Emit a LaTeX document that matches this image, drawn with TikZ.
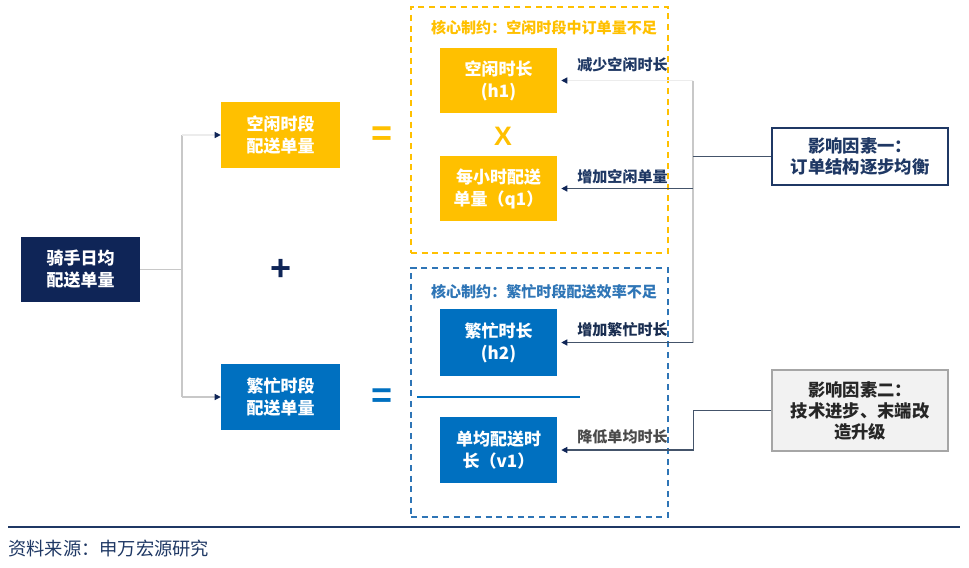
\documentclass[tikz,border=0pt]{standalone}
\usepackage{fontspec}
\setmainfont{Noto Sans CJK SC}
\newfontfamily\symfont{Liberation Sans}
\usetikzlibrary{arrows.meta}
\definecolor{navy}{HTML}{0F2557}
\definecolor{gold}{HTML}{FFC000}
\definecolor{mblue}{HTML}{0070C0}
\definecolor{tblue}{HTML}{2E75B6}
\definecolor{lblnavy}{HTML}{1F3864}
\definecolor{lblgray}{HTML}{4A4A4A}
\definecolor{treegray}{HTML}{C8C8C8}
\definecolor{faint}{HTML}{ECECEC}
\definecolor{linkgray}{HTML}{44546A}
\definecolor{boxgray}{HTML}{F2F2F2}
\begin{document}
\begin{tikzpicture}[x=0.75pt,y=-0.75pt,
  boxbase/.style={minimum width=89.25pt, minimum height=49.5pt, inner sep=0pt, align=center,
    text=white, font=\bfseries\fontsize{12.75}{16.5}\selectfont},
  smallbox/.style={boxbase, minimum width=87.75pt},
  frame/.style={draw, line width=1.5pt, dash pattern=on 4.5pt off 3.5pt, inner sep=0pt},
  ttl/.style={font=\bfseries\fontsize{11.3}{13}\selectfont},
  lbl/.style={font=\bfseries\fontsize{11.3}{13}\selectfont},
  infl/.style={minimum width=132pt, inner sep=0pt, align=center, line width=1.5pt,
    font=\bfseries\fontsize{13}{15.75}\selectfont},
  sym/.style={font=\symfont\bfseries\fontsize{20}{20}\selectfont},
  bigsym/.style={font=\symfont\bfseries\fontsize{27}{27}\selectfont},
  treeline/.style={draw=treegray, line width=0.9pt},
  treearr/.style={treeline, -{Triangle[length=4.5pt,width=4.5pt,color=navy]}},
  linkline/.style={draw=linkgray, line width=0.9pt},
  linkarr/.style={linkline, -{Triangle[length=4.5pt,width=4.5pt,color=navy]}, shorten >=3pt}
]
\useasboundingbox (0,0) rectangle (969,567);

% left part
\node[boxbase, fill=navy, minimum height=48.75pt] (main) at (80.5,269.5) {骑手日均\\配送单量};
\node[boxbase, fill=gold] (yb) at (280.5,135) {空闲时段\\配送单量};
\node[boxbase, fill=mblue] (bb) at (280.5,397) {繁忙时段\\配送单量};
\coordinate (fork) at (182,269.5);
\draw[treeline] (main.east) -- (fork);
\draw[treeline] (fork |- yb.west) -- (fork |- bb.west);
\draw[treearr, draw=faint] (fork |- yb.west) -- (yb.west);
\draw[treearr] (fork |- bb.west) -- (bb.west);
\node[bigsym, text=navy] (plus) at (281,270) {+};
\node[bigsym, text=gold] (eq1) at (382,136) {=};
\node[bigsym, text=mblue] (eq2) at (382,398) {=};

% dashed frames
\node[frame, draw=gold, minimum width=192.75pt, minimum height=184.5pt] (yframe) at (539.5,130) {};
\node[frame, draw=tblue, minimum width=192.75pt, minimum height=186.75pt] (bframe) at (539.5,392.5) {};
\node[ttl, text=gold] (ytitle) at (544,28) {核心制约：空闲时段中订单量不足};
\node[ttl, text=tblue] (btitle) at (544,292) {核心制约：繁忙时段配送效率不足};

% inner boxes
\node[smallbox, fill=gold, minimum height=48.75pt] (h1) at (498.5,80.5) {空闲时长\\(h1)};
\node[sym, text=gold] (times) at (503,136) {X};
\node[smallbox, fill=gold, minimum height=48.75pt] (q1) at (498.5,188.5) {每小时配送\\单量（q1）};
\node[smallbox, fill=mblue, minimum height=50.25pt] (h2) at (498.5,342.5) {繁忙时长\\(h2)};
\node[smallbox, fill=mblue, minimum height=49.5pt] (v1) at (498.5,450) {单均配送时\\长（v1）};
\coordinate (divl) at (417,397);
\coordinate (divr) at (580,397);
\draw[mblue, line width=2.2pt] (divl) -- (divr);

% labels
\node[lbl, text=lblnavy] (l1) at (622.5,65) {减少空闲时长};
\node[lbl, text=lblnavy] (l2) at (622.5,177) {增加空闲单量};
\node[lbl, text=lblnavy!80!black] (l3) at (622.5,330) {增加繁忙时长};
\node[lbl, text=lblgray] (l4) at (622.5,437) {降低单均时长};

% influence boxes
\node[infl, draw=lblnavy, fill=white, text=lblnavy, minimum height=42.75pt] (inf1) at (860,156.5) {影响因素一：\\订单结构逐步均衡};
\node[infl, draw=gray!70, fill=boxgray, text=black!85, minimum height=60.75pt, line width=1pt] (inf2) at (860,410.5) {影响因素二：\\技术进步、末端改\\造升级};

% right connectors
\coordinate (spine) at (693,80.5);
\draw[linkline, draw=treegray] (spine |- h1.east) -- (spine |- h2.east);
\draw[linkarr, draw=faint] (spine |- h1.east) -- (h1.east);
\draw[linkarr] (spine |- q1.east) -- (q1.east);
\draw[linkarr] (spine |- h2.east) -- (h2.east);
\draw[linkline] (spine |- inf1.west) -- (inf1.west);
\draw[linkarr] (inf2.west) -- ++(-78,0) |- (v1.east);

% footer
\coordinate (fl) at (8,527);
\coordinate (fr) at (960,527);
\draw[lblnavy, line width=1.9pt] (fl) -- (fr);
\node[anchor=west, inner sep=0pt, text=lblnavy, font=\fontsize{13.7}{15}\selectfont] (src) at (8,549) {资料来源：申万宏源研究};
\end{tikzpicture}
\end{document}
